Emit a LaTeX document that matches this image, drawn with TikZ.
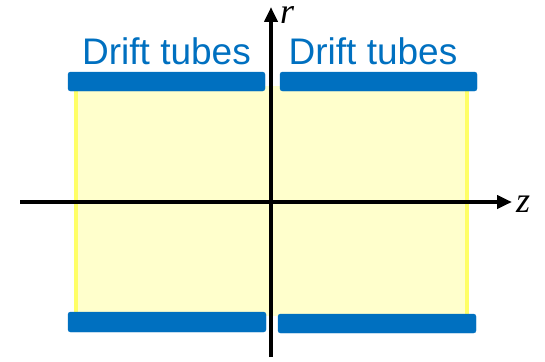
\documentclass[tikz,border=0pt]{standalone}
\usepackage{fontspec}
\setmainfont{Liberation Sans}
\newfontfamily\serifit{Liberation Serif}
\usetikzlibrary{arrows.meta}
\definecolor{tubeblue}{HTML}{0070C0}
\definecolor{gapfill}{HTML}{FFFFCC}
\definecolor{gapedge}{HTML}{FFFF66}
\begin{document}
\begin{tikzpicture}[x=1pt,y=-1pt,
  tube/.style={fill=tubeblue, draw=tubeblue, rounded corners=2.5pt},
  axis/.style={line width=3.8pt, -{Triangle[length=15pt,width=13pt]}},
  tubelabel/.style={text=tubeblue, font=\fontsize{37}{40}\selectfont, inner sep=0pt},
  axlabel/.style={font=\serifit\itshape\fontsize{36}{38}\selectfont, inner sep=0pt}]
\useasboundingbox (0,0) rectangle (545,361);
% gap region
\fill[gapfill] (76,86) rectangle (467,316);
\draw[gapedge, line width=4pt] (76,88) -- (76,314);
\draw[gapedge, line width=4pt] (467,88) -- (467,314);
% tubes
\node[tube, minimum width=197pt, minimum height=19pt, inner sep=0pt] (tl) at (166.5,81.5) {};
\node[tube, minimum width=197pt, minimum height=19pt, inner sep=0pt] (tr) at (378.5,81.5) {};
\node[tube, minimum width=198pt, minimum height=20pt, inner sep=0pt] (bl) at (167,322) {};
\node[tube, minimum width=198pt, minimum height=19pt, inner sep=0pt] (br) at (377,323.5) {};
% labels
\node[tubelabel, anchor=base] (ltext) at (166.5,64) {Drift tubes};
\node[tubelabel, anchor=base] (rtext) at (373,64) {Drift tubes};
% axes
\coordinate (zs) at (20,202);
\coordinate (ze) at (512,202);
\coordinate (rs) at (271,357);
\coordinate (re) at (271,7);
\draw[axis] (zs) -- (ze);
\draw[axis] (rs) -- (re);
\node[axlabel, anchor=base west] (zl) at (516,212) {z};
\node[axlabel, anchor=base west] (rl) at (280,24) {r};
\end{tikzpicture}
\end{document}
